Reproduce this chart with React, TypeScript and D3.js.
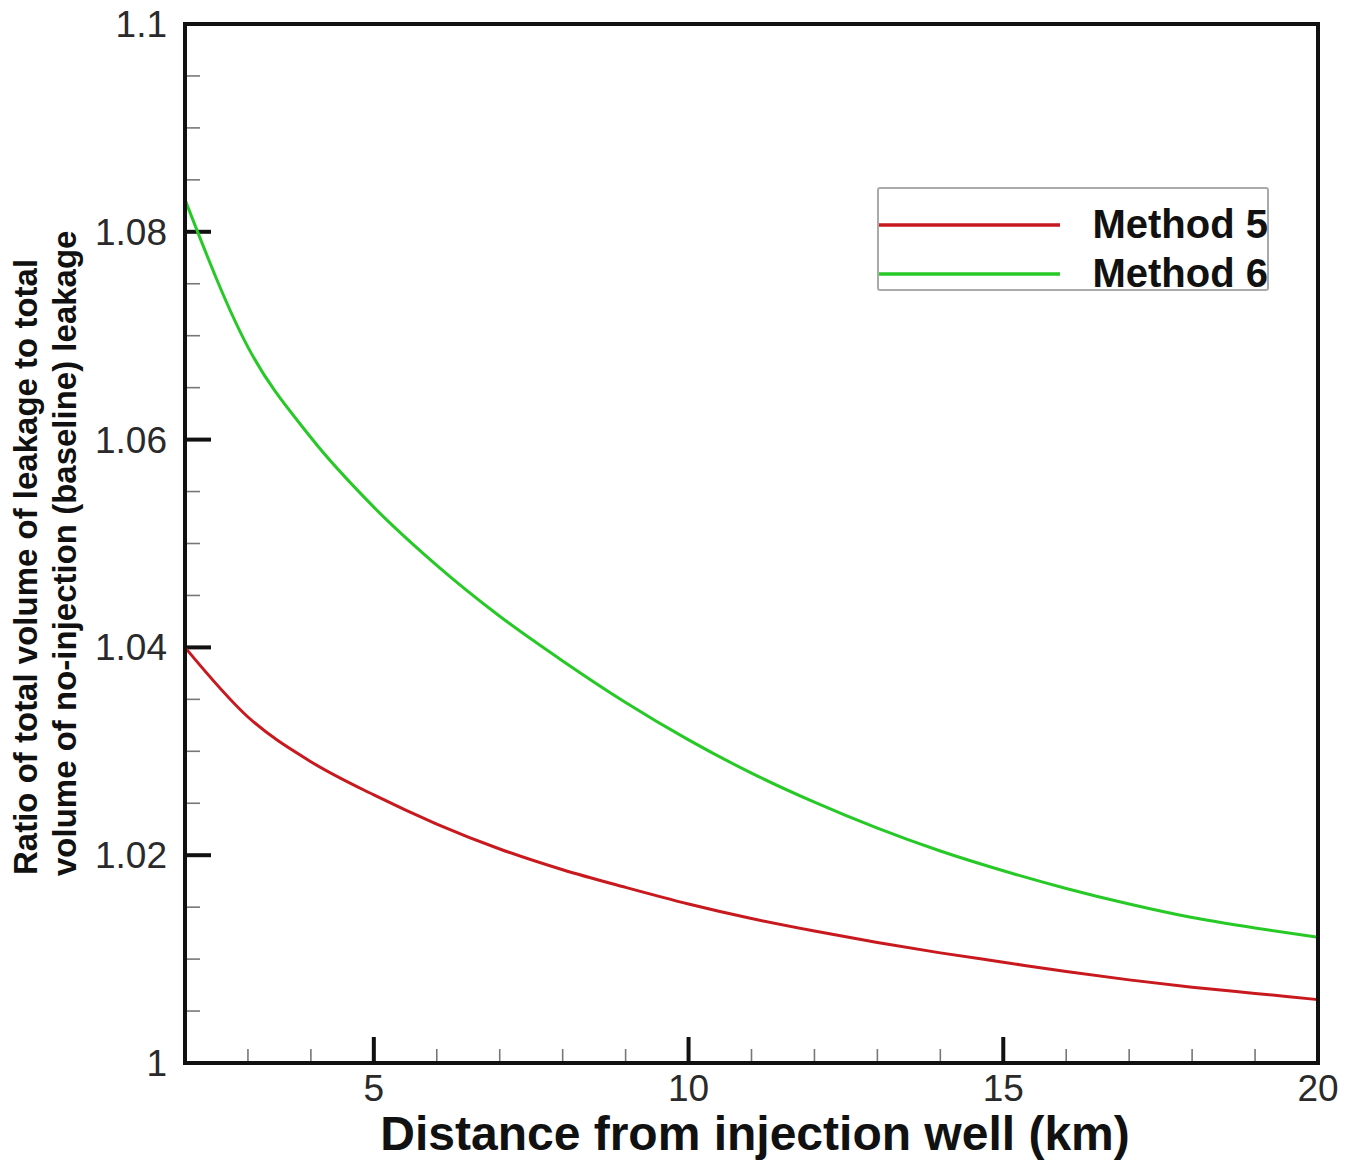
import React from "react";
import * as d3 from "d3";

const distanceKm = [2, 3, 4, 5, 6, 7, 8, 9, 10, 11, 12, 13, 14, 15, 16, 17, 18, 19, 20];
const method5 = [1.04, 1.0333, 1.029, 1.0258, 1.023, 1.0206, 1.0186, 1.0169, 1.0153, 1.0139, 1.0127, 1.0116, 1.0106, 1.0097, 1.0088, 1.008, 1.0073, 1.0067, 1.0061];
const method6 = [1.0831, 1.0689, 1.0602, 1.0535, 1.0479, 1.043, 1.0387, 1.0347, 1.0311, 1.0279, 1.0251, 1.0226, 1.0204, 1.0185, 1.0168, 1.0153, 1.014, 1.013, 1.0121];
const seriesNames = ["Method 5", "Method 6"];
const seriesColors = ["#c8191e", "#27c927"];
const yTickLabels = ["1", "1.02", "1.04", "1.06", "1.08", "1.1"];
const yTickValues = [1.0, 1.02, 1.04, 1.06, 1.08, 1.1];
const xTickValues = [5, 10, 15, 20];
const xTitle = "Distance from injection well (km)";
const yTitle1 = "Ratio of total volume of leakage to total";
const yTitle2 = "volume of no-injection (baseline) leakage";

const W = 1361;
const H = 1160;
const L = 185, R = 1318, T = 24, B = 1063;
const FONT = "'Liberation Sans', Arial, Helvetica, sans-serif";

export default function App() {
  const x = d3.scaleLinear().domain([2, 20]).range([L, R]);
  const y = d3.scaleLinear().domain([1, 1.1]).range([B, T]);
  const line = d3
    .line<[number, number]>()
    .x((d) => x(d[0]))
    .y((d) => y(d[1]))
    .curve(d3.curveMonotoneX);
  const series = [method5, method6].map((vals) => distanceKm.map((d, i) => [d, vals[i]] as [number, number]));

  const yMinor = d3.range(0, 21).map((i) => 1 + i * 0.005).filter((v, i) => i % 4 !== 0);
  const xMinor = d3.range(3, 20).filter((v) => v % 5 !== 0);

  return (
    <svg width={W} height={H} style={{ position: "absolute", left: 0, top: 0, background: "#fff" }} fontFamily={FONT}>
      <rect x={0} y={0} width={W} height={H} fill="#fff" />
      {yMinor.map((v, i) => (
        <line key={"ym" + i} x1={L} x2={L + 15} y1={y(v)} y2={y(v)} stroke="#777" strokeWidth={1.6} />
      ))}
      {xMinor.map((v, i) => (
        <line key={"xm" + i} x1={x(v)} x2={x(v)} y1={B} y2={B - 14} stroke="#777" strokeWidth={1.6} />
      ))}
      {yTickValues.map((v, i) => (
        <line key={"yM" + i} x1={L} x2={L + 26} y1={y(v)} y2={y(v)} stroke="#111" strokeWidth={4} />
      ))}
      {xTickValues.map((v, i) => (
        <line key={"xM" + i} x1={x(v)} x2={x(v)} y1={B} y2={B - 26} stroke="#111" strokeWidth={4} />
      ))}
      {series.map((s, i) => (
        <path key={"s" + i} d={line(s) || ""} fill="none" stroke={seriesColors[i]} strokeWidth={3} />
      ))}
      <rect x={L} y={T} width={R - L} height={B - T} fill="none" stroke="#111" strokeWidth={4} />
      {yTickValues.map((v, i) => (
        <text key={"yl" + i} x={167} y={y(v) + 13} textAnchor="end" fontSize={37} fill="#2a2a2a">
          {yTickLabels[i]}
        </text>
      ))}
      {xTickValues.map((v, i) => (
        <text key={"xl" + i} x={x(v)} y={1101} textAnchor="middle" fontSize={37} fill="#2a2a2a">
          {String(v)}
        </text>
      ))}
      <text x={755} y={1150} textAnchor="middle" fontSize={48} fontWeight="bold" fill="#111">
        {xTitle}
      </text>
      <text transform="translate(37,875) rotate(-90)" textAnchor="start" fontSize={33} fontWeight="bold" fill="#111">
        {yTitle1}
      </text>
      <text transform="translate(76,876) rotate(-90)" textAnchor="start" fontSize={33} fontWeight="bold" fill="#111">
        {yTitle2}
      </text>
      <rect x={878} y={188} width={390} height={102} fill="#fff" stroke="#aaa" strokeWidth={2} rx={2} />
      {seriesNames.map((n, i) => (
        <g key={"lg" + i}>
          <line x1={879} x2={1060} y1={225 + i * 49} y2={225 + i * 49} stroke={seriesColors[i]} strokeWidth={3.5} />
          <text x={1268} y={238 + i * 49} textAnchor="end" fontSize={40} fontWeight="bold" fill="#111">
            {n}
          </text>
        </g>
      ))}
    </svg>
  );
}
